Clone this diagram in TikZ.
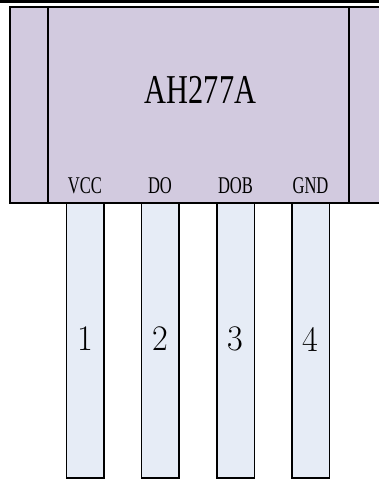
\documentclass[tikz,border=0pt]{standalone}
\usepackage{fontspec}
\newfontfamily\labelfont{Liberation Serif}
\tikzset{
  bodybox/.style={draw=black,line width=1.3pt,fill=bodyc,inner sep=0pt,minimum width=#1,minimum height=196pt},
  pinbox/.style={draw=black,line width=1.5pt,fill=pinc,inner sep=0pt,minimum width=37.5pt,minimum height=275pt},
  title/.style={inner sep=0pt,xscale=.74,transform shape,font=\labelfont\fontsize{41}{42}\selectfont},
  pinname/.style={inner sep=0pt,xscale=.69,transform shape,font=\labelfont\fontsize{24}{25}\selectfont},
  pinnum/.style={inner sep=0pt,xscale=.95,transform shape,font=\fontsize{36}{37}\selectfont},
}
\definecolor{bodyc}{HTML}{D2CADF}
\definecolor{pinc}{HTML}{E6ECF6}
\begin{document}
\begin{tikzpicture}[x=1pt,y=-1pt]
\useasboundingbox (0,0) rectangle (379,479);
\fill[black] (0,0) rectangle (379,3.2);
\node[pinbox] (p1) at (85,340.5) {};
\node[pinbox] (p2) at (160,340.5) {};
\node[pinbox] (p3) at (235.5,340.5) {};
\node[pinbox] (p4) at (310.5,340.5) {};
\begin{scope}
\clip (0,0) rectangle (379,479);
\node[bodybox=372pt] (body) at (196,105) {};
\end{scope}
\coordinate (lt) at (47.7,7);
\coordinate (lb) at (47.7,203);
\coordinate (rt) at (348.7,7);
\coordinate (rb) at (348.7,203);
\draw[line width=1.7pt] (lt) -- (lb);
\draw[line width=1.7pt] (rt) -- (rb);
\node[title] (t) at (200.5,90) {AH277A};
\node[pinname] (n1) at (85,186) {VCC};
\node[pinname] (n2) at (160,186) {DO};
\node[pinname] (n3) at (235.5,186) {DOB};
\node[pinname] (n4) at (310.5,186) {GND};
\node[pinnum] (d1) at (85,339) {1};
\node[pinnum] (d2) at (160,339) {2};
\node[pinnum] (d3) at (235.5,339) {3};
\node[pinnum] (d4) at (310.5,339) {4};
\end{tikzpicture}
\end{document}
